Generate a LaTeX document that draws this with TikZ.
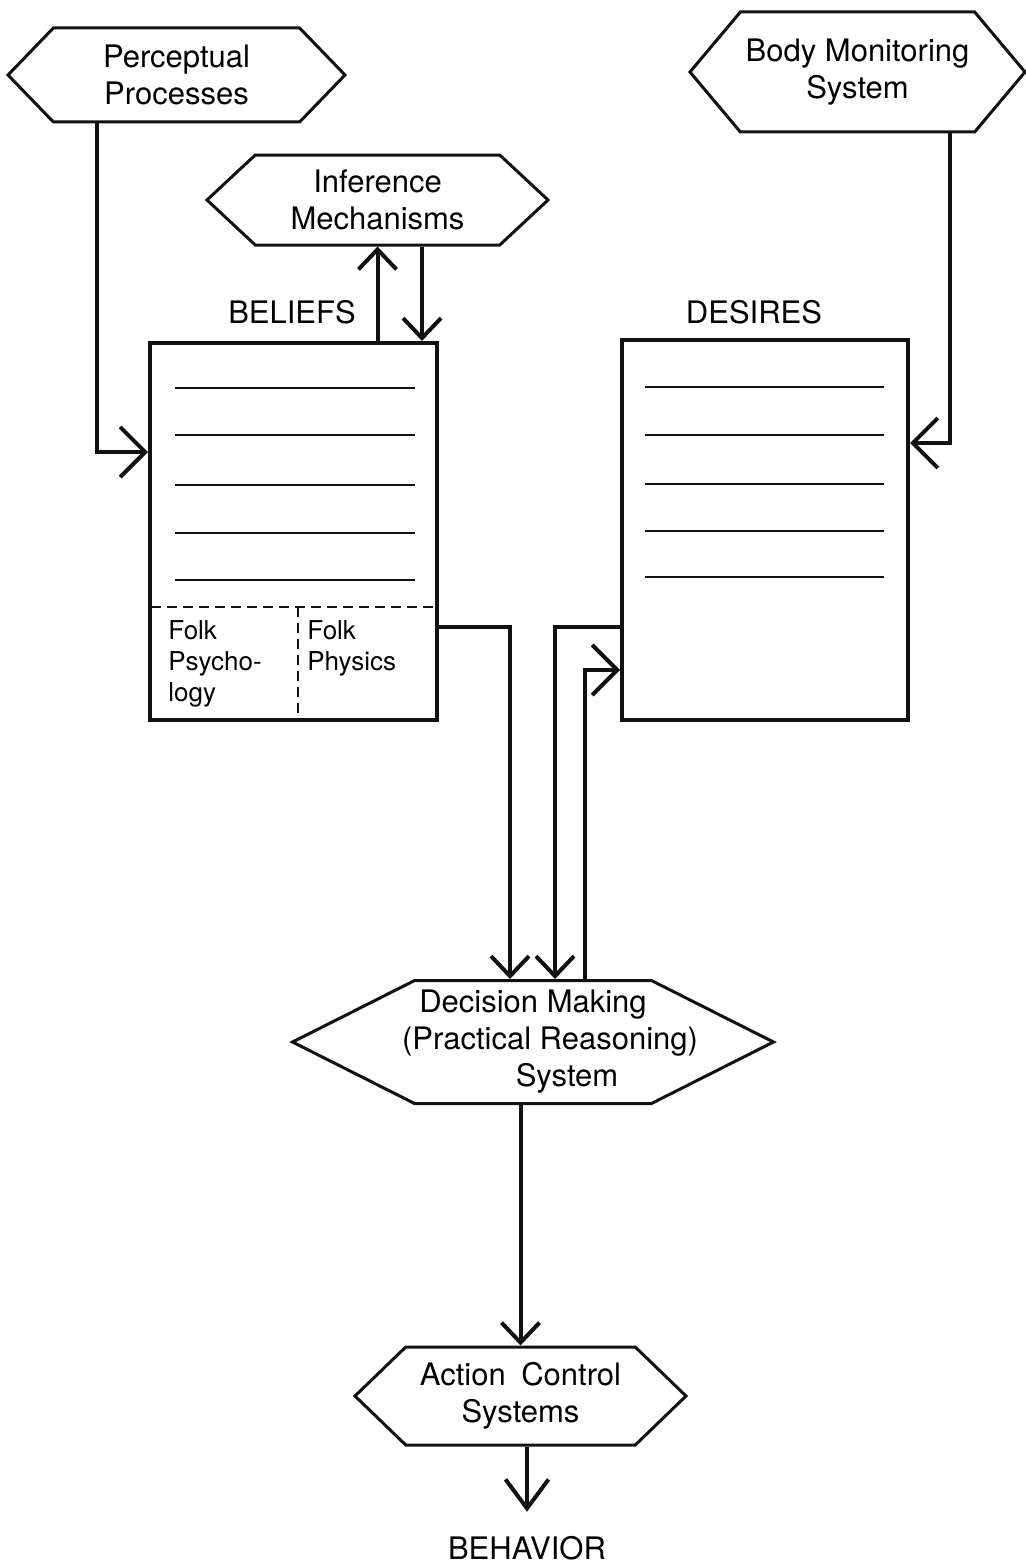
\documentclass[tikz,border=0pt]{standalone}
\usepackage{fontspec}
\setmainfont{TeX Gyre Heros}
\usepackage{xcolor}
\usetikzlibrary{arrows.meta,positioning,shapes.symbols,calc}
\definecolor{ink}{HTML}{111111}
\tikzset{
  hexbox/.style={draw=ink,line width=1.5pt,signal,signal to=west and east,
                 align=center,font=\fontsize{15.5}{18.5}\selectfont,inner sep=2pt},
  storebox/.style={draw=ink,line width=2pt,rectangle,inner sep=0pt},
  entryline/.style={draw=ink,line width=1.2pt},
  splitline/.style={draw=ink,line width=1pt,dash pattern=on 5pt off 3pt},
  flowarr/.style={-{Straight Barb[length=10pt,width=19pt]},line width=2pt,draw=ink},
  sidearr/.style={flowarr,-{Straight Barb[length=12.5pt,width=25pt]}},
  outarr/.style={flowarr,-{Straight Barb[length=14.5pt,width=21.5pt]}},
  biglabel/.style={font=\fontsize{15.5}{18.5}\selectfont,inner sep=0pt},
  smalllabel/.style={font=\fontsize{13}{15.5}\selectfont,align=left,inner sep=0pt,anchor=north west}
}

\begin{document}
\begin{tikzpicture}[x=0.5pt,y=-0.5pt]
  \useasboundingbox (0,0) rectangle (1026,1568);

  % input systems
  \node[hexbox,minimum width=168.5pt,minimum height=47pt,signal pointer angle=92] (percept) at (176.5,75) {Perceptual\\Processes};
  \node[hexbox,minimum width=167.5pt,minimum height=60pt,signal pointer angle=100] (body) at (857.5,72) {Body Monitoring\\System};
  \node[hexbox,minimum width=170.5pt,minimum height=45pt,signal pointer angle=86] (infer) at (377.5,200) {Inference\\Mechanisms};

  % the two stores
  \node[storebox,minimum width=143.5pt,minimum height=188.5pt] (beliefs) at (293.5,531.5) {};
  \node[storebox,minimum width=143pt,minimum height=190pt] (desires) at (765,530) {};
  \node[biglabel] (beliefslab) at (292,312) {BELIEFS};
  \node[biglabel] (desireslab) at (754,312) {DESIRES};
  \foreach \y in {388,435,485,533,580} {
    \draw[entryline] (175,\y) -- (415,\y);
  }
  \foreach \y in {387,435,484,531,577} {
    \draw[entryline] (645,\y) -- (884,\y);
  }
  \draw[splitline] (151,607) -- (436,607);
  \draw[splitline] (298,607) -- (298,719);
  \node[smalllabel] (folkpsy) at (168,620) {Folk\\Psycho-\\logy};
  \node[smalllabel] (folkphy) at (307,620) {Folk\\Physics};

  % decision and action
  \node[hexbox,minimum width=240pt,minimum height=61.5pt,signal pointer angle=53.5,inner xsep=-23.25pt] (decision) at (533,1042)
    {Decision Making\\\hspace*{17pt}(Practical Reasoning)\\\hspace*{34pt}System};
  \node[hexbox,minimum width=165.5pt,minimum height=49pt,signal pointer angle=88] (action) at (520.5,1396) {Action\enspace Control\\Systems};
  \node[biglabel] (behavior) at (527,1548) {BEHAVIOR};

  % connectors
  \draw[sidearr] ([xshift=-39.75pt]percept.south) |- ([yshift=39.75pt]beliefs.west);
  \draw[sidearr] ([xshift=46.25pt]body.south) |- ([yshift=43.5pt]desires.east);
  \draw[flowarr] (beliefs.north -| infer.south) -- (infer.south);
  \draw[flowarr] ([xshift=22.25pt]infer.south) -- ([xshift=22.25pt]infer.south |- beliefs.north);
  \draw[flowarr] ([yshift=-47.75pt]beliefs.east) -| ([xshift=-11.5pt]decision.north);
  \draw[flowarr] ([yshift=-48.5pt]desires.west) -| ([xshift=11pt]decision.north);
  \draw[sidearr] ([xshift=26pt]decision.north) |- ([yshift=-70pt]desires.west);
  \draw[flowarr] (decision.south -| action.north) -- (action.north);
  \draw[outarr,shorten >=12pt] (action.south -| behavior.north) -- (behavior.north);
\end{tikzpicture}
\end{document}
